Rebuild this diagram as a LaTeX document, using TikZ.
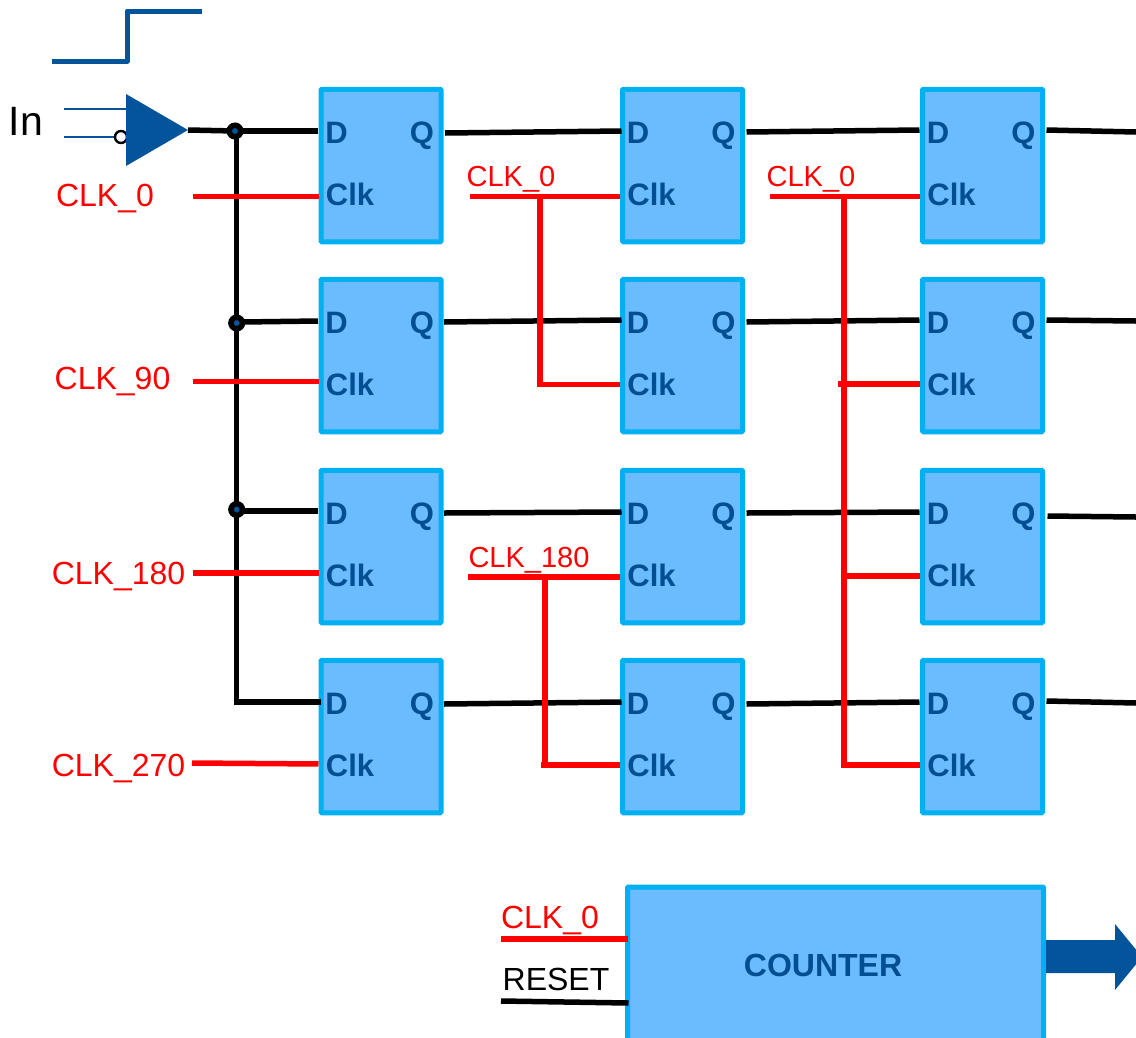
\documentclass[tikz,border=0pt]{standalone}
\usepackage{fontspec}
\setmainfont{Liberation Sans}
\usetikzlibrary{shapes.geometric}
\definecolor{ffill}{HTML}{6BBBFF}
\definecolor{fedge}{HTML}{00B0F0}
\definecolor{dblue}{HTML}{03549A}
\definecolor{ptext}{HTML}{014F92}
\tikzset{
  ffbox/.style={draw=fedge,fill=ffill,line width=5pt,rounded corners=1pt,outer sep=0pt,inner sep=0pt,minimum width=120pt,minimum height=152.5pt},
  pin/.style={text=ptext,font=\bfseries\fontsize{31}{31}\selectfont,inner sep=0pt,text height=22pt,text depth=0pt},
  wire/.style={draw=black,line width=5.5pt},
  rwire/.style={draw=red,line width=5.5pt},
  clkwire/.style={rwire,shorten >=2.5pt},
  thin wire/.style={draw=dblue,line width=1.6pt},
  rlabel/.style={text=red,font=\fontsize{32}{32}\selectfont,inner sep=0pt},
  rsmall/.style={text=red,font=\fontsize{29}{29}\selectfont,inner sep=0pt},
  junction/.style={circle,draw=black,fill=dblue,line width=5.5pt,minimum size=11.5pt,inner sep=0pt,outer sep=0pt},
}
\begin{document}
\begin{tikzpicture}[x=1pt,y=-1pt]
\useasboundingbox (0,0) rectangle (1136,1037);
\clip (0,0) rectangle (1136,1037);

% step waveform
\coordinate (s0) at (52,61);
\coordinate (s1) at (202,11);
\draw[dblue,line width=5pt,line join=round] (s0) -- (127,61) -- (127,11) -- (s1);

% input buffer
\node[circle,draw=black,fill=white,line width=2.4pt,minimum size=12pt,inner sep=0pt] (bubble) at (121,137) {};
\node[isosceles triangle,isosceles triangle stretches,fill=dblue,inner sep=0pt,outer sep=0pt,minimum width=72pt,minimum height=62pt,anchor=apex] (buf) at (188,130) {};
\coordinate (in1) at (64,109);
\coordinate (in2) at (64,137);
\draw[thin wire] (in1) -- (buf.west |- 0,109);
\draw[thin wire] (in2) -- (bubble.west);
\node[inner sep=0pt,font=\fontsize{41}{41}\selectfont] (inlabel) at (26,121) {In};

% flip-flops
\foreach \r/\yy in {1/165.5,2/355.5,3/546.5,4/736.5}{
  \foreach \c/\xx in {1/381,2/682.5,3/982.5}{
    \node[ffbox] (ff\r\c) at (\xx,\yy) {};
    \node[pin] (ff\r\c d) at (\xx-44.5,\yy-33) {D};
    \node[pin] (ff\r\c q) at (\xx+41,\yy-33.5) {Q};
    \node[pin] (ff\r\c c) at (\xx-31,\yy+29) {Clk};
  }
}

% data bus
\node[junction] (j1) at (235,131) {};
\node[junction] (j2) at (236.7,323) {};
\node[junction] (j3) at (236.7,509.5) {};
\coordinate (busend) at (236.7,702);
\draw[wire] (buf.apex) -- (j1);
\draw[wire] (j1) -- ([xshift=-3pt]ff11.west |- 0,131);
\draw[wire] (j1.south -| busend) -- (j2.north -| busend);
\draw[wire] (j2.south -| busend) -- (j3.north -| busend);
\draw[wire,line cap=rect] (j3.south -| busend) -- (busend) -- ([xshift=-3pt]ff41.west |- 0,702);
\draw[wire] (j2.east |- 0,322) -- ([xshift=-3pt]ff21.west |- 0,321);
\draw[wire] (j3.east |- 0,511) -- ([xshift=-3pt]ff31.west |- 0,511);

% Q to D wires
\draw[wire] ([xshift=4pt]ff11.east |- 0,133) -- ([xshift=-1pt]ff12.west |- 0,131);
\draw[wire] ([xshift=4pt]ff12.east |- 0,132) -- ([xshift=-3pt]ff13.west |- 0,130);
\coordinate (o1) at (1136,132);
\draw[wire] ([xshift=4pt]ff13.east |- 0,130) -- (o1);
\draw[wire] ([xshift=3pt]ff21.east |- 0,322) -- ([xshift=-1pt]ff22.west |- 0,320);
\draw[wire] ([xshift=4pt]ff22.east |- 0,322) -- ([xshift=-3pt]ff23.west |- 0,320);
\coordinate (o2) at (1136,321);
\draw[wire] ([xshift=4pt]ff23.east |- 0,320) -- (o2);
\draw[wire] ([xshift=3pt]ff31.east |- 0,513) -- ([xshift=-1pt]ff32.west |- 0,512);
\draw[wire] ([xshift=4pt]ff32.east |- 0,513) -- ([xshift=-3pt]ff33.west |- 0,512);
\coordinate (o3) at (1136,517);
\draw[wire] ([xshift=5pt]ff33.east |- 0,516) -- (o3);
\draw[wire] ([xshift=3pt]ff41.east |- 0,704) -- ([xshift=-1pt]ff42.west |- 0,702);
\draw[wire] ([xshift=4pt]ff42.east |- 0,704) -- ([xshift=-3pt]ff43.west |- 0,702);
\coordinate (o4) at (1136,703);
\draw[wire] ([xshift=4pt]ff43.east |- 0,701) -- (o4);

% clock inputs, column 1
\node[rlabel] (c0) at (105,199) {CLK\_0};
\node[rlabel] (c90) at (112.5,382) {CLK\_90};
\node[rlabel] (c180) at (118.5,576) {CLK\_180};
\node[rlabel] (c270) at (118.5,768) {CLK\_270};
\coordinate (a0) at (193,196.5);
\coordinate (a1) at (193,381.5);
\coordinate (a2) at (193,573);
\coordinate (a3) at (192,763);
\draw[clkwire] (a0) -- (ff11.west |- a0);
\draw[clkwire] (a1) -- (ff21.west |- a1);
\draw[clkwire] (a2) -- (ff31.west |- a2);
\draw[clkwire] (a3) -- (ff41.west |- 0,764);

% clock column 2
\node[rsmall] (c20) at (511,179) {CLK\_0};
\node[rsmall] (c2180) at (529,560) {CLK\_180};
\coordinate (b0) at (470,196.5);
\coordinate (b0t) at (540,196.5);
\coordinate (b1) at (468,577);
\coordinate (b1t) at (545,577);
\draw[clkwire] (b0) -- (ff12.west |- b0);
\draw[clkwire] (b0t) -- (540,384.5) -- (ff22.west |- 0,384.5);
\draw[clkwire] (b1) -- (ff32.west |- b1);
\draw[rwire] (b1t) -- (545,765);
\draw[clkwire] (541,765) -- (ff42.west |- 0,765);

% clock column 3
\node[rsmall] (c30) at (811,179) {CLK\_0};
\coordinate (d0) at (770,196.5);
\coordinate (d0t) at (844,196.5);
\coordinate (d2) at (838,384);
\coordinate (d3) at (844,576);
\coordinate (d4) at (841,765);
\draw[clkwire] (d0) -- (ff13.west |- d0);
\draw[rwire] (d0t) -- (844,767.5);
\draw[clkwire] (d2) -- (ff23.west |- d2);
\draw[clkwire] (d3) -- (ff33.west |- d3);
\draw[clkwire] (d4) -- (ff43.west |- d4);

% counter
\node[ffbox,minimum width=416pt,minimum height=183pt] (counter) at (835.5,978.5) {};
\node[pin,font=\bfseries\fontsize{32}{32}\selectfont] (counterlabel) at (823,965) {COUNTER};
\node[rlabel] (cc0) at (550,920) {CLK\_0};
\node[inner sep=0pt,font=\fontsize{32}{32}\selectfont] (reset) at (556,979) {RESET};
\coordinate (e0) at (501,939);
\coordinate (e1) at (501,1001);
\draw[rwire] (e0) -- (counter.west |- e0);
\draw[wire] (e1) -- ([xshift=1pt]counter.west |- 0,1003);
\fill[dblue] ([xshift=2.5pt]counter.east |- 0,940) -- (1115,940) -- (1115,924) -- (1142,957) -- (1115,990) -- (1115,973) -- ([xshift=2.5pt]counter.east |- 0,973) -- cycle;
\end{tikzpicture}
\end{document}
